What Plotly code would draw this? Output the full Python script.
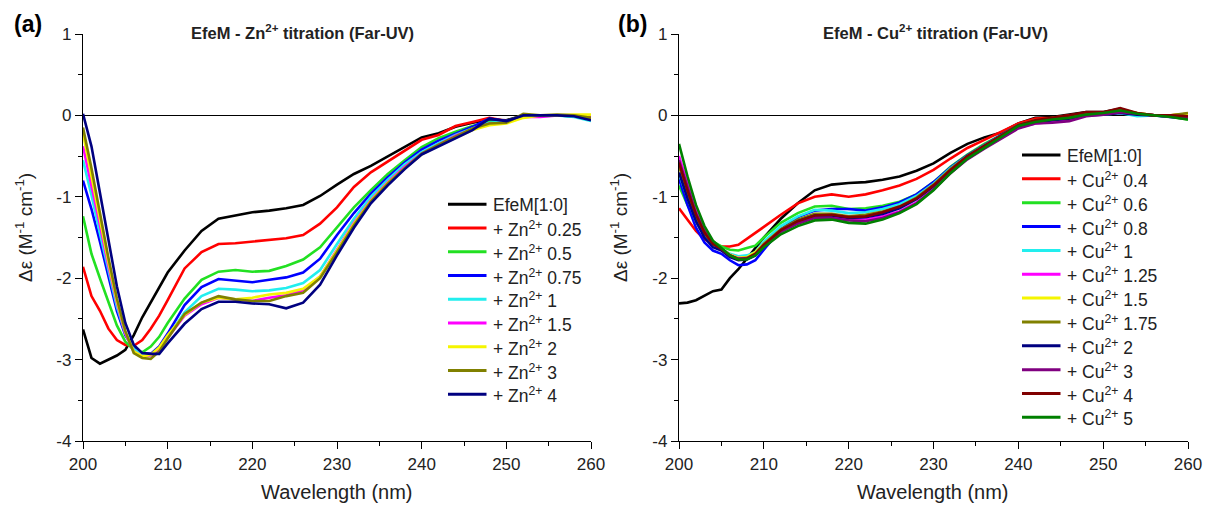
import plotly.graph_objects as go

FONT = "Liberation Sans, Arial, sans-serif"

wl = [200, 201, 202, 203, 204, 205, 206, 207, 208, 209, 210, 212, 214, 216, 218, 220,
      222, 224, 226, 228, 230, 232, 234, 236, 238, 240, 242, 244, 246, 248, 250, 252,
      254, 256, 258, 260]

# ---- Panel (a): Zn2+ titration ----
zn_names = ["EfeM[1:0]", "+ Zn<sup>2+</sup> 0.25", "+ Zn<sup>2+</sup> 0.5", "+ Zn<sup>2+</sup> 0.75",
            "+ Zn<sup>2+</sup> 1", "+ Zn<sup>2+</sup> 1.5", "+ Zn<sup>2+</sup> 2", "+ Zn<sup>2+</sup> 3",
            "+ Zn<sup>2+</sup> 4"]
zn_colors = ["#000000", "#ff0000", "#22e022", "#0000ff", "#22eeee", "#ff00ff", "#f5f500", "#808000", "#000080"]

zn_0 = [-2.63, -2.98, -3.05, -3.00, -2.95, -2.88, -2.70, -2.48, -2.30, -2.12, -1.93, -1.66, -1.42, -1.27, -1.23, -1.19,
        -1.17, -1.14, -1.10, -0.99, -0.85, -0.72, -0.62, -0.50, -0.38, -0.27, -0.22, -0.14, -0.09, -0.05, -0.06, 0.00,
        0.00, 0.00, 0.00, -0.03]
zn_025 = [-1.86, -2.22, -2.40, -2.62, -2.76, -2.82, -2.83, -2.76, -2.62, -2.46, -2.27, -1.88, -1.68, -1.58, -1.57, -1.55,
          -1.53, -1.51, -1.47, -1.33, -1.13, -0.88, -0.70, -0.57, -0.44, -0.30, -0.24, -0.13, -0.08, -0.03, -0.07, 0.00,
          0.00, 0.00, 0.00, -0.03]
zn_05 = [-1.24, -1.70, -2.00, -2.30, -2.58, -2.78, -2.88, -2.91, -2.84, -2.72, -2.55, -2.25, -2.02, -1.92, -1.90, -1.92,
         -1.91, -1.85, -1.77, -1.62, -1.38, -1.13, -0.92, -0.72, -0.55, -0.39, -0.28, -0.20, -0.13, -0.08, -0.07, 0.00,
         0.00, 0.00, -0.01, -0.04]
zn_075 = [-0.80, -1.15, -1.55, -1.98, -2.40, -2.70, -2.86, -2.92, -2.93, -2.84, -2.68, -2.33, -2.11, -2.01, -2.03, -2.05,
          -2.02, -1.99, -1.93, -1.76, -1.47, -1.20, -0.96, -0.76, -0.58, -0.42, -0.31, -0.22, -0.14, -0.04, -0.07, -0.01,
          0.00, 0.00, -0.01, -0.05]
zn_1 = [-0.55, -0.98, -1.45, -1.92, -2.35, -2.68, -2.87, -2.93, -2.94, -2.87, -2.72, -2.42, -2.22, -2.13, -2.14, -2.16,
        -2.15, -2.12, -2.06, -1.90, -1.58, -1.27, -1.00, -0.79, -0.60, -0.45, -0.34, -0.24, -0.16, -0.09, -0.08, -0.02,
        -0.01, 0.00, -0.02, -0.07]
zn_15 = [-0.38, -0.85, -1.35, -1.85, -2.30, -2.68, -2.90, -2.96, -2.95, -2.88, -2.73, -2.46, -2.32, -2.24, -2.26, -2.28,
         -2.24, -2.21, -2.15, -1.98, -1.65, -1.32, -1.04, -0.82, -0.63, -0.47, -0.36, -0.25, -0.17, -0.10, -0.09, -0.02,
         -0.02, 0.00, 0.00, -0.03]
zn_2 = [-0.22, -0.75, -1.28, -1.80, -2.28, -2.66, -2.90, -2.96, -2.94, -2.85, -2.70, -2.45, -2.30, -2.24, -2.26, -2.24,
        -2.20, -2.18, -2.13, -1.98, -1.66, -1.33, -1.05, -0.83, -0.65, -0.48, -0.37, -0.27, -0.18, -0.12, -0.10, -0.03,
        0.00, 0.00, 0.01, 0.01]
zn_3 = [-0.15, -0.65, -1.20, -1.75, -2.25, -2.65, -2.92, -2.98, -2.99, -2.90, -2.74, -2.44, -2.30, -2.22, -2.26, -2.28,
        -2.28, -2.22, -2.18, -2.00, -1.68, -1.35, -1.06, -0.84, -0.65, -0.47, -0.36, -0.26, -0.16, -0.10, -0.09, 0.02,
        0.00, 0.01, 0.00, -0.03]
zn_4 = [0.02, -0.38, -0.95, -1.55, -2.10, -2.55, -2.82, -2.92, -2.93, -2.93, -2.80, -2.56, -2.38, -2.29, -2.29, -2.31,
        -2.32, -2.37, -2.30, -2.08, -1.72, -1.38, -1.08, -0.86, -0.66, -0.48, -0.38, -0.27, -0.18, -0.04, -0.07, 0.00,
        0.00, 0.00, -0.01, -0.06]
zn_series = [zn_0, zn_025, zn_05, zn_075, zn_1, zn_15, zn_2, zn_3, zn_4]

# ---- Panel (b): Cu2+ titration ----
cu_names = ["EfeM[1:0]", "+ Cu<sup>2+</sup> 0.4", "+ Cu<sup>2+</sup> 0.6", "+ Cu<sup>2+</sup> 0.8",
            "+ Cu<sup>2+</sup> 1", "+ Cu<sup>2+</sup> 1.25", "+ Cu<sup>2+</sup> 1.5", "+ Cu<sup>2+</sup> 1.75",
            "+ Cu<sup>2+</sup> 2", "+ Cu<sup>2+</sup> 3", "+ Cu<sup>2+</sup> 4", "+ Cu<sup>2+</sup> 5"]
cu_colors = ["#000000", "#ff0000", "#22e022", "#0000ff", "#22eeee", "#ff00ff", "#f5f500", "#808000",
             "#000080", "#800080", "#800000", "#008000"]

cu_0 = [-2.31, -2.30, -2.27, -2.22, -2.16, -2.14, -2.00, -1.89, -1.76, -1.62, -1.50, -1.27, -1.08, -0.92, -0.85, -0.83,
        -0.82, -0.79, -0.75, -0.68, -0.59, -0.46, -0.35, -0.27, -0.21, -0.10, -0.03, -0.02, 0.01, 0.04, 0.04, 0.08,
        0.02, 0.00, -0.01, -0.04]
cu_04 = [-1.14, -1.28, -1.42, -1.52, -1.58, -1.61, -1.61, -1.59, -1.52, -1.45, -1.37, -1.22, -1.08, -1.00, -0.97, -1.00,
         -0.97, -0.92, -0.86, -0.78, -0.67, -0.53, -0.40, -0.30, -0.20, -0.10, -0.04, -0.03, 0.00, 0.03, 0.03, 0.08,
         0.02, 0.00, 0.00, 0.02]
cu_06 = [-0.86, -1.10, -1.30, -1.45, -1.55, -1.61, -1.65, -1.66, -1.63, -1.60, -1.50, -1.32, -1.20, -1.12, -1.11, -1.15,
         -1.14, -1.11, -1.06, -0.97, -0.82, -0.63, -0.48, -0.35, -0.24, -0.12, -0.06, -0.05, -0.02, 0.02, 0.02, 0.06,
         0.02, 0.00, -0.02, -0.05]
cu_08 = [-0.78, -1.10, -1.38, -1.56, -1.66, -1.70, -1.78, -1.84, -1.83, -1.78, -1.65, -1.40, -1.25, -1.17, -1.15, -1.15,
         -1.17, -1.13, -1.07, -0.97, -0.82, -0.64, -0.49, -0.36, -0.24, -0.12, -0.07, -0.05, -0.02, 0.02, 0.02, 0.05,
         0.02, 0.00, -0.02, -0.04]
cu_1 = [-0.72, -1.02, -1.30, -1.48, -1.60, -1.64, -1.70, -1.73, -1.72, -1.68, -1.55, -1.36, -1.24, -1.16, -1.17, -1.20,
        -1.19, -1.15, -1.09, -0.99, -0.84, -0.65, -0.50, -0.37, -0.25, -0.13, -0.07, -0.06, -0.03, 0.01, 0.01, 0.03,
        -0.01, 0.00, -0.01, -0.03]
cu_125 = [-0.50, -0.85, -1.17, -1.40, -1.56, -1.64, -1.71, -1.75, -1.75, -1.70, -1.58, -1.42, -1.32, -1.24, -1.25, -1.27,
          -1.28, -1.24, -1.18, -1.07, -0.90, -0.70, -0.53, -0.40, -0.28, -0.15, -0.10, -0.08, -0.06, 0.00, 0.02, 0.05,
          0.02, 0.00, -0.01, -0.03]
cu_15 = [-0.60, -0.92, -1.22, -1.44, -1.57, -1.64, -1.71, -1.75, -1.74, -1.68, -1.58, -1.41, -1.30, -1.23, -1.22, -1.25,
         -1.24, -1.20, -1.13, -1.02, -0.86, -0.67, -0.51, -0.38, -0.26, -0.13, -0.08, -0.05, -0.03, 0.02, 0.02, 0.06,
         0.03, 0.00, 0.00, 0.02]
cu_175 = [-0.62, -0.95, -1.24, -1.45, -1.58, -1.64, -1.72, -1.76, -1.75, -1.70, -1.58, -1.40, -1.28, -1.21, -1.21, -1.24,
          -1.22, -1.18, -1.12, -1.01, -0.85, -0.66, -0.50, -0.37, -0.25, -0.12, -0.07, -0.03, -0.01, 0.03, 0.03, 0.07,
          0.03, 0.00, 0.00, 0.03]
cu_2 = [-0.70, -1.02, -1.30, -1.50, -1.62, -1.66, -1.74, -1.78, -1.77, -1.72, -1.60, -1.42, -1.30, -1.23, -1.23, -1.26,
        -1.25, -1.21, -1.14, -1.03, -0.87, -0.68, -0.51, -0.38, -0.26, -0.14, -0.09, -0.06, -0.04, 0.00, 0.01, 0.03,
        0.01, 0.00, -0.01, -0.03]
cu_3 = [-0.55, -0.88, -1.20, -1.42, -1.57, -1.64, -1.72, -1.76, -1.76, -1.71, -1.60, -1.43, -1.33, -1.26, -1.26, -1.29,
        -1.30, -1.26, -1.19, -1.08, -0.91, -0.71, -0.54, -0.41, -0.28, -0.16, -0.10, -0.09, -0.07, -0.01, 0.01, 0.04,
        0.02, 0.00, -0.01, -0.03]
cu_4 = [-0.58, -0.92, -1.22, -1.44, -1.58, -1.64, -1.72, -1.77, -1.76, -1.70, -1.59, -1.41, -1.30, -1.23, -1.22, -1.25,
        -1.24, -1.19, -1.12, -1.02, -0.86, -0.67, -0.50, -0.37, -0.25, -0.12, -0.06, -0.03, 0.00, 0.04, 0.04, 0.09,
        0.03, 0.00, 0.00, -0.01]
cu_5 = [-0.35, -0.75, -1.10, -1.36, -1.54, -1.63, -1.72, -1.77, -1.77, -1.72, -1.62, -1.46, -1.36, -1.29, -1.28, -1.32,
        -1.33, -1.28, -1.20, -1.09, -0.92, -0.71, -0.53, -0.40, -0.27, -0.13, -0.08, -0.05, -0.03, 0.01, 0.03, 0.06,
        0.02, 0.00, -0.02, -0.05]
cu_series = [cu_0, cu_04, cu_06, cu_08, cu_1, cu_125, cu_15, cu_175, cu_2, cu_3, cu_4, cu_5]

y_ticks = [1, 0, -1, -2, -3, -4]
y_ticktext = ["1", "0", "-1", "-2", "-3", "-4"]
x_ticks = [200, 210, 220, 230, 240, 250, 260]

W, H = 1211, 507
LW = 2.6

fig = go.Figure()
for name, col, ys in zip(zn_names, zn_colors, zn_series):
    fig.add_trace(go.Scatter(x=wl, y=ys, mode="lines", name=name, showlegend=False,
                             line=dict(color=col, width=LW), xaxis="x", yaxis="y"))
for name, col, ys in zip(cu_names, cu_colors, cu_series):
    fig.add_trace(go.Scatter(x=wl, y=ys, mode="lines", name=name, showlegend=False,
                             line=dict(color=col, width=LW), xaxis="x2", yaxis="y2"))

top_px, bot_px = 34, 441
ydom = [1 - bot_px / H, 1 - top_px / H]


def px_x(p):
    return p / W


def px_y(p):
    return 1 - p / H


def xax(domain, anchor):
    return dict(domain=domain, anchor=anchor, range=[200, 260], tickvals=x_ticks, automargin=False,
                showline=True, linecolor="black", linewidth=1.3, ticks="outside", ticklen=7,
                tickwidth=1.3, tickcolor="black", showgrid=False, zeroline=False,
                minor=dict(dtick=5, tick0=200, ticks="outside", ticklen=4, tickcolor="black", tickwidth=1.2),
                tickfont=dict(family=FONT, size=17, color="#222"))


def yax(anchor):
    return dict(domain=ydom, anchor=anchor, range=[-4, 1], tickvals=y_ticks, ticktext=y_ticktext,
                automargin=False,
                showline=True, linecolor="black", linewidth=1.3, ticks="outside", ticklen=7,
                tickwidth=1.3, tickcolor="black", showgrid=False,
                zeroline=True, zerolinecolor="black", zerolinewidth=1.3,
                minor=dict(dtick=0.5, tick0=0, ticks="outside", ticklen=4, tickcolor="black", tickwidth=1.2),
                tickfont=dict(family=FONT, size=17, color="#222"))


annotations = []
shapes = []

# panel labels and titles
for lab, xp in [("(a)", 12), ("(b)", 616)]:
    annotations.append(dict(text=f"<b>{lab}</b>", x=px_x(xp), y=px_y(24), xref="paper", yref="paper",
                            xanchor="left", yanchor="middle", showarrow=False,
                            font=dict(family=FONT, size=23, color="black")))
for ttl, xc in [("EfeM - Zn<sup>2+</sup> titration (Far-UV)", 302),
                ("EfeM - Cu<sup>2+</sup> titration (Far-UV)", 935)]:
    annotations.append(dict(text=f"<b>{ttl}</b>", x=px_x(xc), y=px_y(32), xref="paper", yref="paper",
                            xanchor="center", yanchor="middle", showarrow=False,
                            font=dict(family=FONT, size=16.5, color="#222")))

# axis titles
for xc in [337, 933]:
    annotations.append(dict(text="Wavelength (nm)", x=px_x(xc), y=px_y(492), xref="paper", yref="paper",
                            xanchor="center", yanchor="middle", showarrow=False,
                            font=dict(family=FONT, size=20, color="#222")))
for xc in [24, 619]:
    annotations.append(dict(text="Δε (M<sup>-1</sup> cm<sup>-1</sup>)", x=px_x(xc), y=px_y(228),
                            xref="paper", yref="paper", xanchor="center", yanchor="middle",
                            textangle=-90, showarrow=False,
                            font=dict(family=FONT, size=19, color="#222")))

# legends (drawn as sample lines + labels)
legend_specs = [
    (zn_names, zn_colors, 448, 204.3, 23.75),
    (cu_names, cu_colors, 1022, 155.0, 23.85),
]
for names, cols, x0, y0, dy in legend_specs:
    for i, (nm, col) in enumerate(zip(names, cols)):
        yc = y0 + i * dy
        shapes.append(dict(type="line", xref="paper", yref="paper", x0=px_x(x0), x1=px_x(x0 + 38.5),
                           y0=px_y(yc), y1=px_y(yc), line=dict(color=col, width=3)))
        annotations.append(dict(text=nm, x=px_x(x0 + 43), y=px_y(yc + 1), xref="paper", yref="paper",
                                xanchor="left", yanchor="middle", showarrow=False,
                                font=dict(family=FONT, size=17.5, color="#222")))

fig.update_layout(
    width=W, height=H, margin=dict(l=0, r=0, t=0, b=0),
    paper_bgcolor="white", plot_bgcolor="white",
    xaxis=xax([83 / W, 591 / W], "y"),
    yaxis=yax("x"),
    xaxis2=xax([679 / W, 1188 / W], "y2"),
    yaxis2=yax("x2"),
    showlegend=False,
    annotations=annotations,
    shapes=shapes,
)

fig.write_html("out.html", config={"displayModeBar": False},
               post_script="document.body.style.margin='0';document.body.style.overflow='hidden';")
